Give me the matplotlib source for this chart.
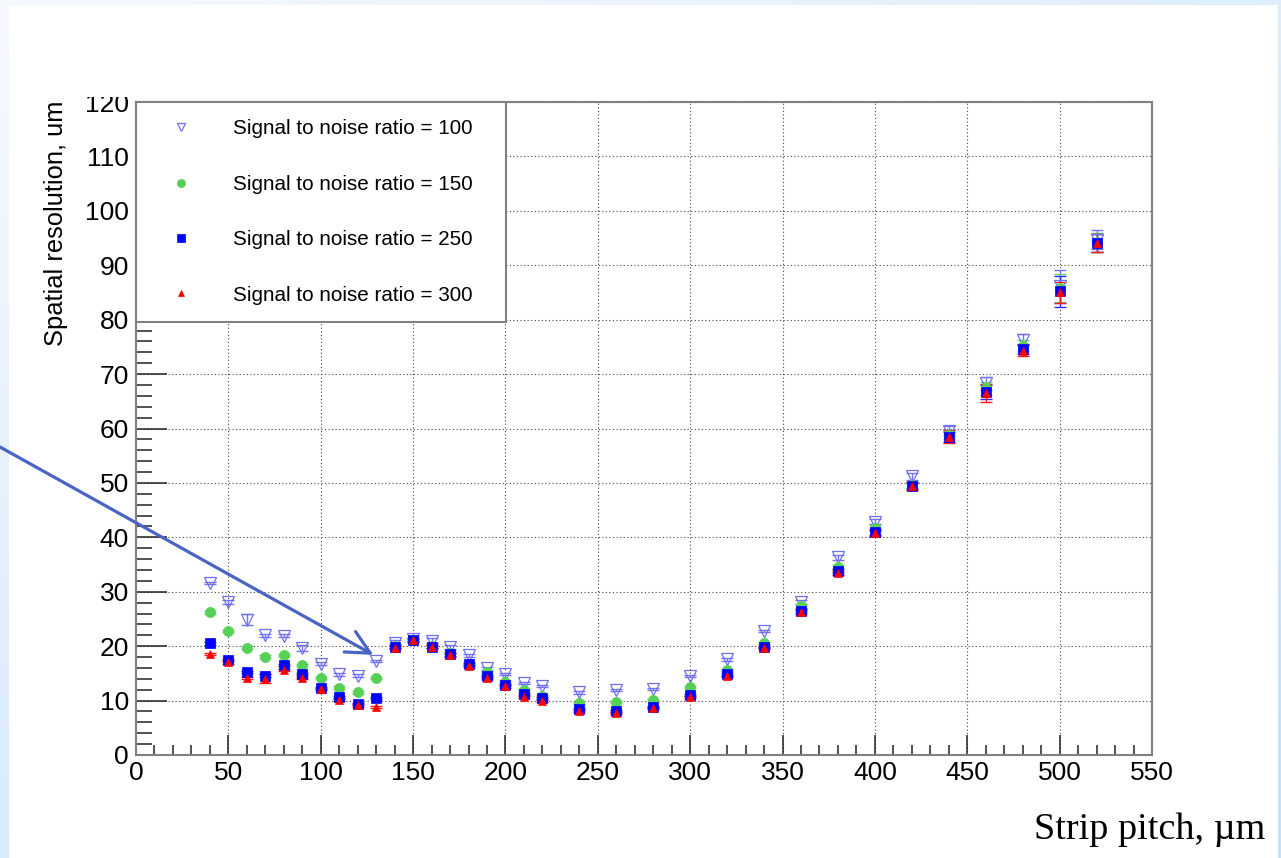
import numpy as np
import matplotlib
matplotlib.use("Agg")
import matplotlib.pyplot as plt
from matplotlib.patches import Rectangle
from matplotlib.ticker import MultipleLocator
from matplotlib.transforms import Bbox, TransformedBbox

plt.rcParams['font.family'] = ['Liberation Sans', 'DejaVu Sans']

# ---------------- data ----------------
strip_pitch = [40, 50, 60, 70, 80, 90, 100, 110, 120, 130, 140, 150, 160, 170, 180,
               190, 200, 210, 220, 240, 260, 280, 300, 320, 340, 360, 380, 400,
               420, 440, 460, 480, 500, 520]

snr100 = [31.6, 28.1, 24.9, 22.0, 21.9, 19.7, 16.8, 14.8, 14.6, 17.2, 20.6, 21.3, 21.0,
          19.8, 18.3, 15.9, 14.9, 13.2, 12.7, 11.5, 11.9, 12.2, 14.5, 17.6, 22.8, 28.1,
          36.3, 42.9, 51.2, 59.6, 68.3, 76.3, 86.1, 94.7]
snr150 = [26.2, 22.8, 19.7, 18.1, 18.4, 16.6, 14.1, 12.4, 11.5, 14.1, 20.0, 21.1, 20.0,
          18.8, 16.8, 15.3, 13.5, 11.9, 10.9, 9.6, 9.7, 10.1, 12.5, 15.6, 20.6, 27.3,
          34.5, 41.7, 49.6, 58.8, 67.4, 75.2, 85.8, 94.2]
snr250 = [20.5, 17.4, 15.2, 14.6, 16.5, 14.9, 12.3, 10.6, 9.4, 10.4, 19.9, 21.1, 19.9,
          18.5, 16.7, 14.5, 12.9, 11.2, 10.4, 8.4, 8.1, 8.8, 11.0, 14.8, 19.9, 26.5,
          33.8, 41.0, 49.4, 58.5, 66.7, 74.6, 85.2, 94.1]
snr300 = [18.6, 17.0, 14.2, 14.0, 15.6, 14.2, 12.1, 10.1, 9.1, 8.8, 19.7, 21.2, 19.9,
          18.4, 16.4, 14.2, 12.6, 10.7, 9.9, 8.1, 7.7, 8.6, 10.7, 14.5, 19.6, 26.3,
          33.5, 40.8, 49.4, 58.5, 66.5, 74.3, 85.0, 94.1]

err100 = [0.2, 0.3, 1.0, 0.3, 0.3, 0.6, 0.3, 0.2, 0.2, 0.2, 0.5, 0.4, 0.5, 0.4, 0.2,
          0.2, 0.2, 0.2, 0.2, 0.2, 0.2, 0.2, 0.2, 0.3, 0.2, 0.4, 0.4, 0.5, 0.6, 0.8,
          1.2, 1.0, 3.0, 1.7]
err150 = [0.2, 0.2, 0.3, 0.3, 0.2, 0.2, 0.2, 0.2, 0.2, 0.2, 0.3, 0.3, 0.3, 0.3, 0.2,
          0.2, 0.2, 0.2, 0.2, 0.2, 0.2, 0.2, 0.2, 0.2, 0.2, 0.3, 0.4, 0.5, 0.6, 0.8,
          1.2, 1.0, 2.6, 1.7]
err250 = [0.2, 0.2, 0.2, 0.3, 0.2, 0.2, 0.2, 0.2, 0.2, 0.2, 0.3, 0.3, 0.3, 0.3, 0.2,
          0.2, 0.2, 0.2, 0.2, 0.2, 0.2, 0.2, 0.2, 0.2, 0.2, 0.3, 0.4, 0.5, 0.6, 0.9,
          1.3, 1.0, 2.9, 1.7]
err300 = [0.2, 0.2, 0.2, 0.8, 0.2, 0.2, 0.2, 0.2, 0.2, 0.2, 0.3, 0.3, 0.3, 0.3, 0.2,
          0.2, 0.2, 0.2, 0.2, 0.2, 0.2, 0.2, 0.2, 0.2, 0.2, 0.3, 0.4, 0.5, 0.7, 1.2,
          1.6, 1.0, 2.0, 1.7]

labels = ["Signal to noise ratio = 100", "Signal to noise ratio = 150",
          "Signal to noise ratio = 250", "Signal to noise ratio = 300"]

x_label = "Strip pitch, \u00b5m"
y_label = "Spatial resolution, um"

# ---------------- figure ----------------
W, H = 1281, 858
fig = plt.figure(figsize=(W / 100, H / 100), dpi=100)

# slide background (light blue gradient border)
bg = fig.add_axes([0, 0, 1, 1], zorder=-10)
bg.axis('off')
gx = np.linspace(0, 1, 256)[None, :]
gy = np.linspace(0, 1, 256)[:, None]
grad = np.clip(0.5 * gx + 0.6 * gy, 0, 1)
c0 = np.array([0.965, 0.98, 0.995])
c1 = np.array([0.78, 0.88, 0.97])
img = c0[None, None, :] * (1 - grad[..., None]) + c1[None, None, :] * grad[..., None]
bg.imshow(img, extent=[0, 1, 0, 1], aspect='auto', origin='upper')
bg.add_patch(Rectangle((9 / W, 0), (1278 - 9) / W, (H - 5) / H,
                       transform=bg.transAxes, facecolor='white', edgecolor='none'))
bg.set_xlim(0, 1)
bg.set_ylim(0, 1)

ax = fig.add_axes([136 / W, 1 - 755 / H, (1152 - 136) / W, (755 - 102) / H])
ax.set_xlim(0, 550)
ax.set_ylim(0, 120)

styles = [
    dict(marker='v', mfc='none', mec='#6f6ff2', color='#7474f0', ms=8.0, mew=0.9),
    dict(marker='o', mfc='#57d057', mec='#57d057', color='#6ad66a', ms=7.3, mew=0.5),
    dict(marker='s', mfc='#0000ff', mec='#0000ff', color='#2a2aff', ms=6.8, mew=0.5),
    dict(marker='^', mfc='#ff0000', mec='#ff0000', color='#ff1a1a', ms=6.2, mew=0.5),
]
series = [snr100, snr150, snr250, snr300]
errs = [err100, err150, err250, err300]

handles = []
for ys, es, st, lab in zip(series, errs, styles, labels):
    ax.errorbar(strip_pitch, ys, yerr=es, fmt='none', ecolor=st['color'],
                elinewidth=1.0, capsize=4, capthick=1.0, zorder=3)
    ln, = ax.plot(strip_pitch, ys, linestyle='none', marker=st['marker'],
                  markerfacecolor=st['mfc'], markeredgecolor=st['mec'],
                  markersize=st['ms'], markeredgewidth=st['mew'], zorder=4, label=lab)
    handles.append(ln)

# grid and ticks
ax.xaxis.set_major_locator(MultipleLocator(50))
ax.xaxis.set_minor_locator(MultipleLocator(10))
ax.yaxis.set_major_locator(MultipleLocator(10))
ax.yaxis.set_minor_locator(MultipleLocator(2))
ax.grid(True, which='major', linestyle=(0, (1, 2.2)), color='#444444', linewidth=0.8)
ax.set_axisbelow(True)
ax.tick_params(axis='x', which='major', direction='in', length=14.5, width=1.1,
               color='#222222', labelsize=19, pad=4, top=False)
ax.tick_params(axis='x', which='minor', direction='in', length=7.2, width=1.1,
               color='#222222', top=False)
ax.tick_params(axis='y', which='major', direction='in', length=22, width=1.1,
               color='#222222', labelsize=19, pad=5, right=False)
ax.tick_params(axis='y', which='minor', direction='in', length=11.5, width=1.1,
               color='#222222', right=False)
for sp in ax.spines.values():
    sp.set_color('#808080')
    sp.set_linewidth(1.5)

ax.set_xticks(np.arange(0, 551, 50))
ax.set_yticks(np.arange(0, 121, 10))

# axis labels
ax.set_xlabel(x_label, family=['Liberation Serif', 'DejaVu Serif'], fontsize=27.5,
              ha='right', va='baseline')
ax.xaxis.set_label_coords((1265 - 136) / 1016, (755 - 839) / 653)
ax.set_ylabel(y_label, fontsize=18.4, ha='right', va='center',
              rotation_mode='anchor')
ax.yaxis.set_label_coords((56 - 136) / 1016, (755 - 101) / 653)

# legend
leg = ax.legend(handles=handles, loc='upper left',
                bbox_to_anchor=(0, 1 - (323.7 - 102) / 653, (505.7 - 136) / 1016,
                                (323.7 - 102) / 653),
                mode='expand', borderaxespad=0, frameon=True, fancybox=False,
                edgecolor='#808080', framealpha=1, fontsize=14.9, borderpad=0.84,
                labelspacing=1.76, handlelength=2.67, handletextpad=1.17,
                markerscale=0.8)
leg.get_frame().set_linewidth(1.5)
leg.set_zorder(6)

# arrow annotation
ann = ax.annotate('', xy=(128.5, 18.4), xycoords='data',
                  xytext=(0, 1 - 447 / H), textcoords='figure fraction',
                  arrowprops=dict(arrowstyle='->', color='#4a64c6', lw=2.3,
                                  mutation_scale=42, shrinkA=0, shrinkB=0),
                  annotation_clip=False, zorder=7)
ann.arrow_patch.set_clip_on(False)

# top tick label clipped as in the reference
fig.canvas.draw()
clip = TransformedBbox(Bbox([[0, 0], [1, (H - 97) / H]]), fig.transFigure)
for lbl in ax.get_yticklabels():
    if lbl.get_text() == '120':
        lbl.set_clip_box(clip)
        lbl.set_clip_on(True)

fig.savefig('out.png', dpi=100)
